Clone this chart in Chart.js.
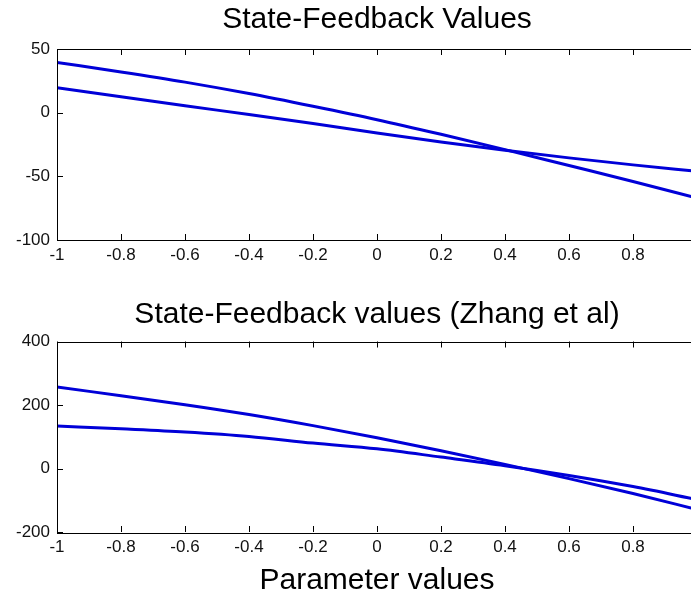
<!DOCTYPE html>
<html>
<head>
<meta charset="utf-8">
<script src="https://cdn.jsdelivr.net/npm/chart.js@4"></script>
<style>
  html, body { margin: 0; padding: 0; background: #fff; overflow: hidden; }
  #fig { position: relative; width: 691px; height: 597px; overflow: hidden; background: #fff; }
  #fig canvas { position: absolute; left: 0; }
</style>
</head>
<body>
<div id="fig">
  <canvas id="topChart" width="754" height="290" style="top:0;width:754px;height:290px"></canvas>
  <canvas id="bottomChart" width="754" height="320" style="top:290px;width:754px;height:320px"></canvas>
</div>
<script>
// --- DONNÉES ---
const xValues = [-1, -0.8, -0.6, -0.4, -0.2, 0, 0.2, 0.4, 0.6, 0.8, 1];

// subplot du haut : State-Feedback Values
const topSteep   = [39.5, 32, 24, 15, 5, -5.5, -17, -29, -41.5, -54, -67];
const topShallow = [19.5, 12.5, 5.5, -1.5, -8.5, -16, -23, -29.5, -35.5, -41, -46];

// subplot du bas : Zhang et al
const botSteep   = [257, 229, 201, 170, 135, 97, 56, 13, -32, -79, -129];
const botShallow = [134, 125, 115, 101, 80, 62, 36, 9, -22, -57, -98];

// graduations
const xTicks = [-1, -0.8, -0.6, -0.4, -0.2, 0, 0.2, 0.4, 0.6, 0.8, 1];
const topYTicks = [-100, -50, 0, 50];
const botYTicks = [-200, 0, 200, 400];

const FONT = 'Liberation Sans, Arial, Helvetica, sans-serif';
const BLUE = '#0000d8';

// points {x, y} construits depuis les tableaux
function toPoints(ys) {
    return xValues.map((x, i) => ({ x: x, y: ys[i] }));
}

// cadre noir + petites graduations vers l'intérieur (style MATLAB)
const matlabBox = {
    id: 'matlabBox',
    afterDraw(chart) {
        const { ctx, chartArea: a } = chart;
        const xs = chart.scales.x, ys = chart.scales.y;
        const tl = 6;
        ctx.save();
        ctx.strokeStyle = '#000';
        ctx.lineWidth = 1;
        ctx.strokeRect(Math.round(a.left) + 0.5, Math.round(a.top) + 0.5,
                       Math.round(a.right - a.left), Math.round(a.bottom - a.top));
        ctx.beginPath();
        xs.ticks.forEach(t => {
            const px = Math.round(xs.getPixelForValue(t.value)) + 0.5;
            ctx.moveTo(px, a.bottom); ctx.lineTo(px, a.bottom - tl);
            ctx.moveTo(px, a.top);    ctx.lineTo(px, a.top + tl);
        });
        ys.ticks.forEach(t => {
            const py = Math.round(ys.getPixelForValue(t.value)) + 0.5;
            ctx.moveTo(a.left, py);  ctx.lineTo(a.left + tl, py);
            ctx.moveTo(a.right, py); ctx.lineTo(a.right - tl, py);
        });
        ctx.stroke();
        ctx.restore();
    }
};

function makeChart(id, title, titlePad, steep, shallow, yMin, yMax, yTicks, xTitle, xHeight) {
    const ctx = document.getElementById(id).getContext('2d');
    return new Chart(ctx, {
        type: 'line',
        data: {
            datasets: [
                { data: toPoints(steep), borderColor: BLUE, borderWidth: 3, pointRadius: 0, fill: false, cubicInterpolationMode: 'monotone' },
                { data: toPoints(shallow), borderColor: BLUE, borderWidth: 3, pointRadius: 0, fill: false, cubicInterpolationMode: 'monotone' }
            ]
        },
        options: {
            responsive: false,
            animation: false,
            layout: { padding: 0 },
            plugins: {
                legend: { display: false },
                tooltip: { enabled: false },
                title: {
                    display: true, text: title, color: '#000',
                    font: { family: FONT, size: 30, weight: 'normal', lineHeight: 1.2 },
                    padding: titlePad
                }
            },
            scales: {
                x: {
                    type: 'linear', min: -1, max: 1,
                    grid: { display: false, drawTicks: false },
                    border: { display: false },
                    afterBuildTicks: s => { s.ticks = xTicks.map(v => ({ value: v })); },
                    afterFit: s => { s.height = xHeight; },
                    ticks: {
                        color: '#111', padding: 5, autoSkip: false, maxRotation: 0,
                        font: { family: FONT, size: 17 },
                        callback: v => String(Number(v.toFixed(1)))
                    },
                    title: xTitle ? {
                        display: true, text: xTitle, color: '#000',
                        font: { family: FONT, size: 30, lineHeight: 1.2 },
                        padding: { top: 0, bottom: 11 }
                    } : { display: false }
                },
                y: {
                    min: yMin, max: yMax,
                    grid: { display: false, drawTicks: false },
                    border: { display: false },
                    afterBuildTicks: s => { s.ticks = yTicks.map(v => ({ value: v })); },
                    afterFit: s => { s.width = 57; },
                    ticks: { color: '#111', padding: 7, font: { family: FONT, size: 17 } }
                },
                // axe fantôme à droite pour placer le bord du cadre
                y2: {
                    position: 'right',
                    grid: { display: false, drawTicks: false },
                    border: { display: false },
                    ticks: { display: false },
                    afterFit: s => { s.width = 57; }
                }
            }
        },
        plugins: [matlabBox]
    });
}

makeChart('topChart', 'State-Feedback Values', { top: 2, bottom: 11 },
          topSteep, topShallow, -100, 50, topYTicks, null, 50);
makeChart('bottomChart', 'State-Feedback values (Zhang et al)', { top: 6.5, bottom: 9 },
          botSteep, botShallow, -200, 400, botYTicks, 'Parameter values', 78);
</script>
</body>
</html>
